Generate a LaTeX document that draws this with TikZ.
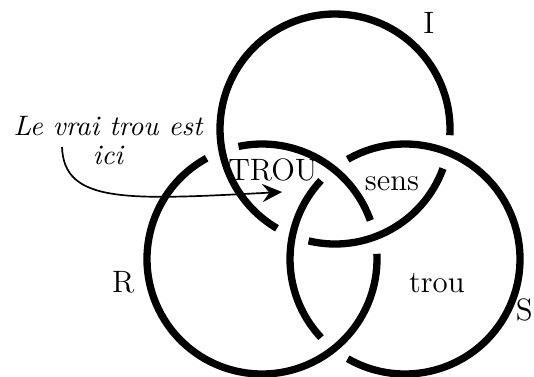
\documentclass[tikz,border=0pt]{standalone}
\usetikzlibrary{arrows.meta,positioning}

\tikzset{
  ring/.style={line width=2.6pt},
  lbl/.style={font=\fontsize{11}{13}\selectfont,inner sep=0pt,anchor=base},
  note/.style={font=\itshape,inner sep=0pt,anchor=base},
  pointer/.style={line width=0.6pt,-{Stealth[length=7pt,width=6.5pt,inset=2.5pt]}}
}

\begin{document}
\begin{tikzpicture}[x=1cm,y=1cm]
\useasboundingbox (0,0) rectangle (6.675,4.7);
\def\rad{1.4375}
\coordinate (cI) at (4.1875,3.0875);
\coordinate (cR) at (3.275,1.4625);
\coordinate (cS) at (5.0625,1.4625);
% chaque anneau passe sous un autre : deux coupures par cercle
\foreach \c/\a/\b in {cI/256.7/339.9, cI/356.9/599.7,
                      cR/19.6/101.8, cR/118.8/362.6,
                      cS/136.9/223.1, cS/240.1/479.9}
  \draw[ring] (\c) ++(\a:\rad) arc[start angle=\a,end angle=\b,radius=\rad];
% noms des anneaux
\node[lbl] (labI) at (5.36,4.2875) {I};
\node[lbl] (labR) at (1.54,1.05) {R};
\node[lbl,anchor=base east] (labS) at (6.665,0.7) {S};
% zones
\node[lbl] (trouC) at (3.41,2.45) {TROU};
\node[lbl] (sens) at (4.9,2.325) {sens};
\node[lbl] (trou) at (5.46,1.05) {trou};
% la remarque et sa fleche
\node[note] (vrai) at (1.35,3.0125) {Le vrai trou est};
\node[note] (ici) at ([yshift=-0.3625cm]vrai.base) {ici};
\coordinate (tail) at (0.775,2.8625);
\coordinate (tip) at (3.525,2.3);
\draw[pointer] (tail) .. controls (0.8,2.15) and (1.6,2.2) .. (tip);
\end{tikzpicture}
\end{document}
